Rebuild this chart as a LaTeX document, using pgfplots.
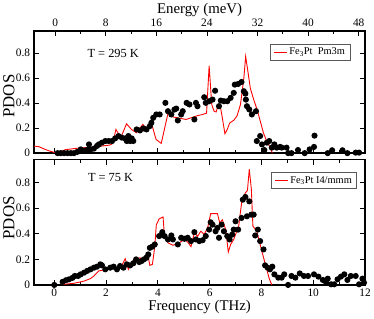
\documentclass[border=0pt]{standalone}
\usepackage{fontspec}
\setmainfont{Liberation Serif}
\usepackage{pgfplots}
\pgfplotsset{compat=1.18}
\begin{document}
\begin{tikzpicture}
\pgfplotsset{
  every axis/.append style={
    scale only axis,
    line width=1.5pt,
    tick style={line width=0.8pt, black},
    major tick length=5pt,
    minor tick length=3pt,
    tick align=inside,
    /pgf/number format/assume math mode=true,
    tick label style={font=\fontsize{11.5}{13}\selectfont},
    label style={font=\fontsize{15}{17}\selectfont},
    ylabel style={font=\fontsize{17}{19}\selectfont},
  },
}
% ---------------- top panel ----------------
\begin{axis}[
  at={(33pt,167.3pt)}, anchor=south west,
  width=334.7pt, height=123.7pt,
  xmin=-0.78, xmax=12, ymin=0, ymax=0.98,
  xtick={0,2,4,6,8,10,12}, minor xtick={1,3,5,7,9,11},
  xticklabels={}, xtick pos=bottom,
  ytick={0,0.2,0.4,0.6,0.8}, yticklabels={0,0.2,0.4,0.6,0.8},
  ylabel={PDOS},
  ylabel style={at={(axis description cs:-0.076,0.467)}, anchor=center},
  legend style={at={(axis description cs:0.955,0.895)}, anchor=north east,
      draw=black!65, line width=0.6pt, fill=white,
      font=\fontsize{10.5}{12}\selectfont, inner xsep=3pt, inner ysep=2pt},
  legend cell align=left,
  legend image code/.code={\draw[red, line width=0.9pt] (0pt,0pt) -- (13pt,0pt);},
]
\addplot[red, line width=0.9pt, mark=none] coordinates {
(-0.78,0.056) (-0.6,0.052) (-0.4,0.034) (-0.2,0.018) (0.0,0.006) (0.18,0.008)
(0.43,0.028) (0.88,0.039) (1.39,0.047) (1.77,0.055) (2.15,0.065) (2.26,0.078)
(2.38,0.19) (2.57,0.125) (2.79,0.235) (2.98,0.19) (3.17,0.163) (3.42,0.23)
(3.55,0.20) (3.74,0.248) (3.93,0.11) (4.13,0.078) (4.41,0.336) (4.58,0.29)
(4.83,0.28) (5.09,0.27) (5.28,0.283) (5.53,0.30) (5.73,0.31) (5.88,0.32)
(5.98,0.70) (6.08,0.39) (6.17,0.336) (6.25,0.33) (6.34,0.39) (6.40,0.38)
(6.46,0.32) (6.59,0.155) (6.68,0.19) (6.77,0.24) (6.94,0.265) (7.06,0.30)
(7.19,0.39) (7.32,0.60) (7.39,0.775) (7.48,0.65) (7.57,0.52) (7.70,0.43)
(7.83,0.35) (7.95,0.26) (8.08,0.16) (8.20,0.097) (8.34,0.044) (8.42,0.0)
};
\addlegendentry{Fe\textsubscript{3}Pt\ \ Pm3m}
\addplot[only marks, mark=*, mark size=2.3pt, black, forget plot] coordinates {
(0.13,0) (0.25,0) (0.38,0) (0.51,0) (0.64,0) (0.76,0) (0.89,0.01) (1.02,0.03)
(1.15,0.02) (1.27,0.025) (1.34,0.07) (1.40,0.03) (1.53,0.036) (1.65,0.058)
(1.72,0.07) (1.84,0.084) (1.97,0.097) (2.10,0.097) (2.23,0.097) (2.35,0.118)
(2.48,0.137) (2.61,0.124) (2.74,0.118) (2.80,0.097) (2.86,0.137) (2.93,0.097)
(2.99,0.118) (3.05,0.097) (3.18,0.190) (3.31,0.182) (3.44,0.198) (3.56,0.190)
(3.69,0.217) (3.75,0.243) (3.82,0.283) (3.94,0.310) (4.07,0.310) (4.29,0.403)
(4.39,0.336) (4.52,0.310) (4.64,0.349) (4.71,0.357) (4.77,0.262) (4.90,0.310)
(4.96,0.336) (5.11,0.403) (5.22,0.390) (5.41,0.270) (5.47,0.403) (5.53,0.376)
(5.79,0.448) (5.85,0.403) (5.98,0.416) (6.11,0.429) (6.21,0.500) (6.36,0.376)
(6.43,0.421) (6.55,0.416) (6.68,0.416) (6.81,0.443) (6.93,0.483) (6.97,0.549)
(7.10,0.554) (7.23,0.570) (7.32,0.496) (7.38,0.477) (7.40,0.429) (7.44,0.376)
(7.53,0.350) (7.63,0.310) (7.79,0.336) (7.82,0.097) (7.95,0.137) (8.02,0.07)
(8.11,0.025) (8.21,0.084) (8.30,0.097) (8.40,0.044) (8.50,0.07) (8.59,0.044)
(8.72,0.05) (8.78,0.044) (8.97,0.044) (9.03,0) (9.16,0) (9.41,0.025)
(9.67,0) (9.86,0.03) (10.03,0.05) (10.05,0.14) (10.56,0) (10.73,0.023)
(11.13,0.023) (11.32,0) (11.64,0.004) (11.77,0.004)
};
\node[font=\fontsize{12.5}{14}\selectfont, anchor=center] at (axis description cs:0.239,0.814) {T = 295 K};
\end{axis}
% energy axis on top
\begin{axis}[
  at={(33pt,167.3pt)}, anchor=south west,
  width=334.7pt, height=123.7pt,
  xmin=-3.33, xmax=49.0, ymin=0, ymax=0.98,
  axis x line*=top, hide y axis,
  xtick={0,8,16,24,32,40,48}, minor xtick={4,12,20,28,36,44},
  xlabel={Energy (meV)},
  xlabel style={at={(axis description cs:0.5,1.17)}, anchor=center},
]
\addplot[draw=none] coordinates {(0,0)};
\end{axis}
% ---------------- bottom panel ----------------
\begin{axis}[
  at={(33pt,34pt)}, anchor=south west,
  width=334.7pt, height=126.7pt,
  xmin=-0.78, xmax=12, ymin=0, ymax=0.98,
  xtick={0,2,4,6,8,10,12}, minor xtick={1,3,5,7,9,11},
  ytick={0,0.2,0.4,0.6,0.8}, yticklabels={0,0.2,0.4,0.6,0.8},
  xlabel={Frequency (THz)},
  xlabel style={at={(axis description cs:0.5,-0.175)}, anchor=center},
  ylabel={PDOS},
  ylabel style={at={(axis description cs:-0.076,0.535)}, anchor=center},
  legend style={at={(axis description cs:0.976,0.9)}, anchor=north east,
      draw=black!65, line width=0.6pt, fill=white,
      font=\fontsize{10.5}{12}\selectfont, inner xsep=3pt, inner ysep=2pt},
  legend cell align=left,
  legend image code/.code={\draw[red, line width=0.9pt] (0pt,0pt) -- (13pt,0pt);},
]
\addplot[red, line width=0.9pt, mark=none] coordinates {
(0.28,0.0) (0.38,0.005) (0.76,0.013) (1.15,0.03) (1.40,0.05) (1.53,0.07)
(1.72,0.11) (1.91,0.117) (2.16,0.122) (2.42,0.135) (2.61,0.153) (2.74,0.205)
(2.86,0.122) (2.99,0.174) (3.12,0.213) (3.21,0.20) (3.31,0.213) (3.41,0.187)
(3.50,0.226) (3.63,0.213) (3.69,0.153) (3.79,0.161) (3.88,0.30) (3.94,0.47)
(4.05,0.517) (4.20,0.532) (4.26,0.369) (4.39,0.33) (4.58,0.31) (4.83,0.33)
(5.03,0.356) (5.15,0.335) (5.28,0.30) (5.41,0.41) (5.53,0.38) (5.66,0.42)
(5.79,0.395) (5.92,0.446) (6.04,0.558) (6.17,0.558) (6.30,0.558) (6.39,0.485)
(6.49,0.51) (6.62,0.433) (6.72,0.257) (6.81,0.317) (6.93,0.356) (7.12,0.46)
(7.25,0.667) (7.38,0.72) (7.46,0.74) (7.53,0.905) (7.61,0.75) (7.67,0.46)
(7.82,0.42) (8.02,0.26) (8.14,0.17) (8.30,0.05) (8.40,0.0)
};
\addlegendentry{Fe\textsubscript{3}Pt I4/mmm}
\addplot[only marks, mark=*, mark size=2.3pt, black, forget plot] coordinates {
(0,0) (0.32,0.024) (0.45,0.037) (0.57,0.044) (0.70,0.055) (0.79,0.07)
(0.92,0.07) (1.02,0.083) (1.15,0.096) (1.27,0.11) (1.40,0.122) (1.53,0.135)
(1.65,0.143) (1.78,0.161) (1.84,0.153) (1.97,0.122) (2.16,0.135) (2.29,0.143)
(2.42,0.122) (2.54,0.148) (2.67,0.135) (2.80,0.161) (2.93,0.153) (3.05,0.169)
(3.16,0.2) (3.28,0.179) (3.37,0.187) (3.46,0.2) (3.56,0.213) (3.63,0.239)
(3.69,0.29) (3.79,0.30) (3.88,0.317) (4.05,0.382) (4.17,0.413) (4.26,0.382)
(4.39,0.356) (4.52,0.387) (4.58,0.356) (4.77,0.317) (4.90,0.369) (5.03,0.361)
(5.15,0.369) (5.28,0.343) (5.41,0.413) (5.47,0.356) (5.60,0.343) (5.73,0.35)
(5.85,0.382) (5.98,0.433) (6.04,0.49) (6.11,0.472) (6.23,0.42) (6.30,0.446)
(6.36,0.369) (6.46,0.472) (6.55,0.42) (6.68,0.382) (6.77,0.356) (6.87,0.394)
(6.93,0.433) (7.0,0.498) (7.10,0.433) (7.23,0.524) (7.28,0.667) (7.38,0.688)
(7.44,0.537) (7.53,0.654) (7.61,0.55) (7.70,0.55) (7.76,0.387) (7.86,0.433)
(7.95,0.343) (8.08,0.278) (8.14,0.153) (8.24,0.135) (8.33,0.122) (8.42,0.143)
(8.50,0.083) (8.65,0.057) (8.78,0.057) (8.88,0.083) (9.03,0) (9.16,0.07)
(9.31,0.057) (9.48,0.09) (9.64,0.07) (9.80,0.07) (10.03,0.083) (10.20,0.065)
(10.37,0.039) (10.50,0.018) (10.56,0.049) (10.69,0.005) (10.81,0.005) (10.94,0.044)
(11.07,0.065) (11.20,0.083) (11.32,0.039) (11.45,0.07) (11.64,0.07) (11.77,0.005)
(11.90,0.049) (11.96,0.018)
};
\node[font=\fontsize{12.5}{14}\selectfont, anchor=center] at (axis description cs:0.231,0.86) {T = 75 K};
\end{axis}
\path[use as bounding box] (0pt,0pt) rectangle (374pt,320pt);
\end{tikzpicture}
\end{document}
